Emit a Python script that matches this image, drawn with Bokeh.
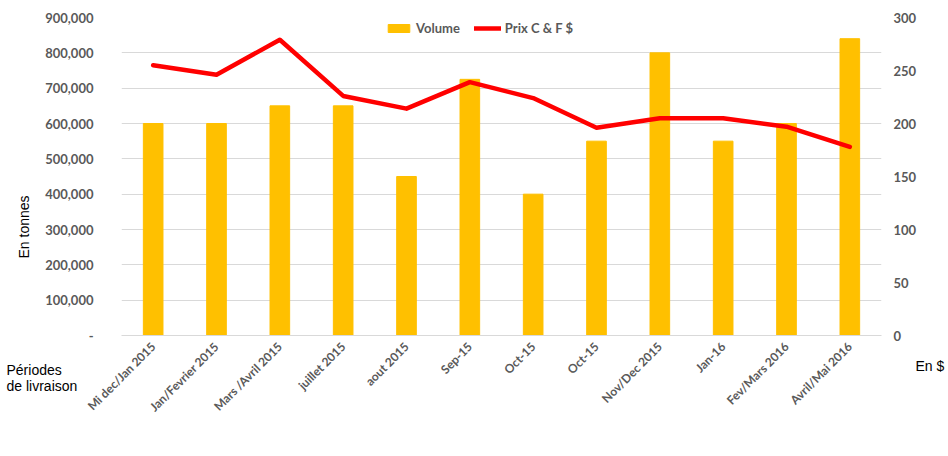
import math
import numpy as np
from bokeh.plotting import figure
from bokeh.models import (Range1d, LinearAxis, FixedTicker, NumeralTickFormatter,
                          Label, Legend, LegendItem, Title)
from bokeh.embed import file_html
from bokeh.resources import INLINE

categories = ["Mi dec/Jan 2015", "Jan/Fevrier 2015", "Mars /Avril 2015", "juillet 2015",
              "aout 2015", "Sep-15", "Oct-15", "Oct-15", "Nov/Dec 2015", "Jan-16",
              "Fev/Mars 2016", "Avril/Mai 2016"]
volume = [600000, 600000, 650000, 650000, 450000, 725000, 400000, 550000, 800000, 550000, 600000, 840000]
prix = [255, 246, 279, 226, 214, 239, 224, 196, 205, 205, 197, 178]
left_ticks = [0, 100000, 200000, 300000, 400000, 500000, 600000, 700000, 800000, 900000]
right_ticks = [0, 50, 100, 150, 200, 250, 300]

x = list(range(len(categories)))

GRAY = "#595959"
TFONT = "Lato"

p = figure(width=948, height=456, output_backend="svg", toolbar_location=None,
           x_range=Range1d(-0.5, len(categories) - 0.5),
           y_range=Range1d(0, 900000),
           min_border_left=121, min_border_right=63, min_border_top=17, min_border_bottom=121)
p.extra_y_ranges = {"prix": Range1d(0, 300)}
p.outline_line_color = None
p.title.visible = False

bars = p.vbar(x=x, top=volume, width=0.31, color="#ffc000")
line = p.line(x=x, y=prix, y_range_name="prix", color="#ff0000", line_width=4.5,
              line_join="round", line_cap="round")

p.xgrid.visible = False
p.ygrid.grid_line_color = "#d9d9d9"
p.ygrid.grid_line_width = 1
p.ygrid.ticker = FixedTicker(ticks=left_ticks)

xa = p.xaxis[0]
xa.ticker = FixedTicker(ticks=x, minor_ticks=[])
xa.major_label_overrides = {i: c for i, c in zip(x, categories)}
xa.major_label_orientation = math.pi / 4
xa.axis_line_color = "#d9d9d9"
xa.major_tick_line_color = None
xa.minor_tick_line_color = None
xa.major_label_text_font = TFONT
xa.major_label_text_font_style = "bold"
xa.major_label_text_font_size = "12px"
xa.major_label_text_color = GRAY
xa.major_label_standoff = 3

ya = p.yaxis[0]
ya.ticker = FixedTicker(ticks=left_ticks, minor_ticks=[])
ya.formatter = NumeralTickFormatter(format="0,0")
ya.major_label_overrides = {0: "-"}
ya.axis_line_color = None
ya.major_tick_line_color = None
ya.minor_tick_line_color = None
ya.major_label_text_font = TFONT
ya.major_label_text_font_style = "bold"
ya.major_label_text_font_size = "13px"
ya.major_label_text_color = GRAY
ya.major_label_standoff = 22

ra = LinearAxis(y_range_name="prix", ticker=FixedTicker(ticks=right_ticks, minor_ticks=[]))
ra.axis_line_color = None
ra.major_tick_line_color = None
ra.minor_tick_line_color = None
ra.major_label_text_font = TFONT
ra.major_label_text_font_style = "bold"
ra.major_label_text_font_size = "13px"
ra.major_label_text_color = GRAY
ra.major_label_standoff = 6
p.add_layout(ra, "right")

lab_kw = dict(text_font="Liberation Sans", text_font_size="14px", text_color="black",
              x_units="screen", y_units="screen", text_align="left", text_baseline="middle")
p.add_layout(Title(text="En tonnes", align="left", offset=77, standoff=22,
                   text_font_style="normal", text_font="Liberation Sans",
                   text_font_size="14px", text_color="black"), "left")

p.add_layout(Label(x=-4, y=-30, text="En $", **lab_kw), "right")
p.add_layout(Label(x=-115, y=-352, text="Périodes", **lab_kw), "above")
p.add_layout(Label(x=-115, y=53, text="de livraison", **lab_kw), "below")

legend = Legend(items=[LegendItem(label="Volume", renderers=[bars]),
                       LegendItem(label="Prix C & F $", renderers=[line])],
                orientation="horizontal", location=(264, 299),
                glyph_width=27, glyph_height=10, label_height=16, label_standoff=4,
                spacing=14, padding=0, margin=0,
                label_text_font=TFONT, label_text_font_style="bold",
                label_text_font_size="13px", label_text_color=GRAY,
                border_line_color=None, background_fill_alpha=0)
p.add_layout(legend, "center")

open("out.html", "w").write(file_html(p, INLINE))
